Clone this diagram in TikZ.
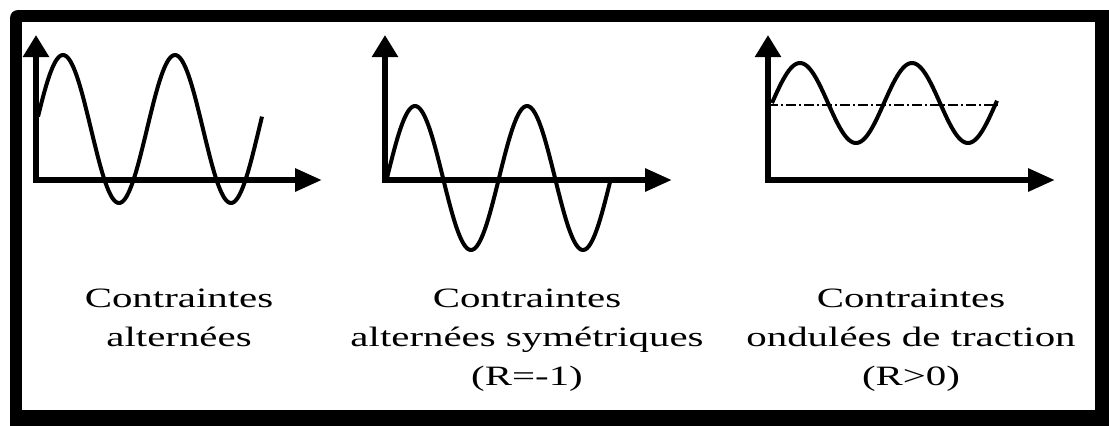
\documentclass[tikz,border=0pt]{standalone}
\usepackage{fontspec}
\setmainfont{Liberation Serif}
\usetikzlibrary{arrows.meta}
\begin{document}
\begin{tikzpicture}[x=0.5pt, y=-0.5pt,
  axis/.style={line width=3pt, line join=miter,
    {Triangle[length=11pt,width=12.5pt]}-{Triangle[length=13.5pt,width=11pt]}},
  wave/.style={line width=2pt, line join=round, samples=150, smooth},
  meanline/.style={line width=1pt, dash pattern=on 5pt off 1.5pt on 1pt off 1.5pt},
  caption/.style={align=center, inner sep=0pt, anchor=north,
    font=\fontsize{14}{19.5}\selectfont, xscale=1.46, transform shape}]
  \clip (0,0) rectangle (1109,425);

  % Frame
  \fill[rounded corners=4pt] (10,10) rectangle (1130,440);
  \fill[white] (22,22) rectangle (1095,410);

  % Axes
  \coordinate (o1) at (36,180);  \coordinate (y1) at (36,35);  \coordinate (x1) at (322,180);
  \coordinate (o2) at (385,180); \coordinate (y2) at (385,35); \coordinate (x2) at (672,180);
  \coordinate (o3) at (768,180); \coordinate (y3) at (768,35); \coordinate (x3) at (1055,180);
  \draw[axis] (y1) -- (o1) -- (x1);
  \draw[axis] (y2) -- (o2) -- (x2);
  \draw[axis] (y3) -- (o3) -- (x3);

  % Waves
  \draw[wave] plot[domain=38:262] (\x, {129 - 74*sin((\x-35)/112*360)});
  \draw[wave] plot[domain=387:611] (\x, {178 - 72*sin((\x-387)/112*360)});
  \draw[wave] plot[domain=772:997] (\x, {103 - 40*sin((\x-772)/112*360)});

  % Mean stress of the third wave
  \coordinate (m1) at (768,105);
  \coordinate (m2) at (998,105);
  \draw[meanline] (m1) -- (m2);

  % Captions
  \node[caption] (c1) at (179,289) {Contraintes\\alternées};
  \node[caption] (c2) at (527,289) {Contraintes\\alternées symétriques\\(R=-1)};
  \node[caption] (c3) at (911,289) {Contraintes\\ondulées de traction\\(R>0)};
\end{tikzpicture}
\end{document}
